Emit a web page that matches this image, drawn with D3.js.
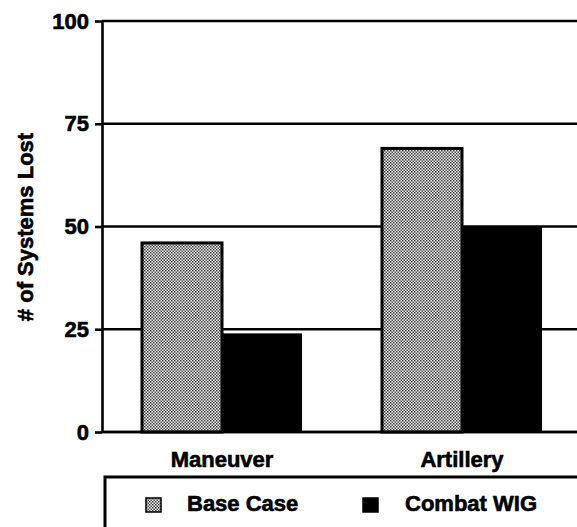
<!DOCTYPE html>
<html>
<head>
<meta charset="utf-8">
<script src="https://cdn.jsdelivr.net/npm/d3@7"></script>
<style>
  html, body { margin: 0; padding: 0; background: #fff; }
  svg { display: block; }
  text { font-family: "Liberation Sans", Arial, Helvetica, sans-serif; font-weight: bold; fill: #000; stroke: #000; stroke-width: 0.6px; }
</style>
</head>
<body>
<svg id="chart" width="577" height="527"></svg>
<script>
const categories = ["Maneuver", "Artillery"];
const seriesNames = ["Base Case", "Combat WIG"];
const baseCase = [46, 69];
const combatWIG = [24, 50];
const yTicks = [0, 25, 50, 75, 100];
const yTitle = "# of Systems Lost";

const svg = d3.select("#chart");
const W = 577, H = 527;
const mLeft = 102, mRight = 582, mTop = 21, mBottom = 432;

const defs = svg.append("defs");
const pat = defs.append("pattern").attr("id", "stipple")
  .attr("patternUnits", "userSpaceOnUse").attr("width", 3).attr("height", 3);
pat.append("rect").attr("width", 3).attr("height", 3).attr("fill", "#e6e6e6");
pat.append("rect").attr("x", 0).attr("y", 0).attr("width", 1.5).attr("height", 1.5).attr("fill", "#444");
pat.append("rect").attr("x", 1.5).attr("y", 1.5).attr("width", 1.5).attr("height", 1.5).attr("fill", "#555");

const y = d3.scaleLinear().domain([0, 100]).range([mBottom, mTop]);
const x0 = d3.scaleBand().domain(categories).range([mLeft, mRight]).paddingInner(0).paddingOuter(0);
const x1 = d3.scaleBand().domain(seriesNames).range([0, x0.bandwidth()]).paddingInner(0).paddingOuter(0.5);

// gridlines
svg.append("g").selectAll("line").data(yTicks).join("line")
  .attr("x1", mLeft).attr("x2", W)
  .attr("y1", d => y(d)).attr("y2", d => y(d))
  .attr("stroke", "#000").attr("stroke-width", 2.6);

// bars
const data = categories.map((c, i) => ({ cat: c, vals: [baseCase[i], combatWIG[i]] }));
const groups = svg.append("g").selectAll("g").data(data).join("g")
  .attr("transform", d => `translate(${x0(d.cat)},0)`);
groups.selectAll("rect").data(d => d.vals.map((v, j) => ({ s: seriesNames[j], v }))).join("rect")
  .attr("x", d => x1(d.s))
  .attr("width", x1.bandwidth())
  .attr("y", d => y(d.v))
  .attr("height", d => y(0) - y(d.v))
  .attr("fill", d => d.s === "Base Case" ? "url(#stipple)" : "#000")
  .attr("stroke", "#000")
  .attr("stroke-width", d => d.s === "Base Case" ? 3 : 0);

// redraw baseline
svg.append("line").attr("x1", mLeft).attr("x2", W).attr("y1", y(0)).attr("y2", y(0))
  .attr("stroke", "#000").attr("stroke-width", 2.6);

// y axis
const yAxis = d3.axisLeft(y).tickValues(yTicks).tickSizeInner(7).tickSizeOuter(0).tickPadding(6);
const ya = svg.append("g").attr("transform", `translate(${mLeft},0)`).call(yAxis);
ya.select(".domain").attr("stroke", "#000").attr("stroke-width", 2.6);
ya.selectAll(".tick line").attr("stroke", "#000").attr("stroke-width", 2.6);
ya.selectAll(".tick text").attr("font-size", 22).attr("font-family", "Liberation Sans, Arial, sans-serif")
  .attr("font-weight", "bold").attr("fill", "#000");

// y title
svg.append("text").attr("transform", `translate(33,227) rotate(-90)`)
  .attr("text-anchor", "middle").attr("font-size", 22).text(yTitle);

// x labels
const xAxis = d3.axisBottom(x0).tickSize(0).tickPadding(0);
const xa = svg.append("g").attr("transform", `translate(0,${mBottom})`).call(xAxis);
xa.select(".domain").remove();
xa.selectAll(".tick text").attr("font-size", 22).attr("font-family", "Liberation Sans, Arial, sans-serif")
  .attr("font-weight", "bold").attr("fill", "#000").attr("dy", null).attr("y", 35);

// legend box
svg.append("path").attr("d", `M105,${H + 5} V477 H${W + 5}`)
  .attr("fill", "none").attr("stroke", "#000").attr("stroke-width", 3);

const legendX = [146, 363];
const leg = svg.append("g").selectAll("g").data(seriesNames).join("g")
  .attr("transform", (d, i) => `translate(${legendX[i]},498)`);
leg.append("rect").attr("width", 15).attr("height", 14)
  .attr("fill", d => d === "Base Case" ? "url(#stipple)" : "#000")
  .attr("stroke", "#000").attr("stroke-width", 1.5);
leg.append("text").attr("x", (d, i) => i === 0 ? 41 : 42).attr("y", 13)
  .attr("font-size", 22).text(d => d);
</script>
</body>
</html>
